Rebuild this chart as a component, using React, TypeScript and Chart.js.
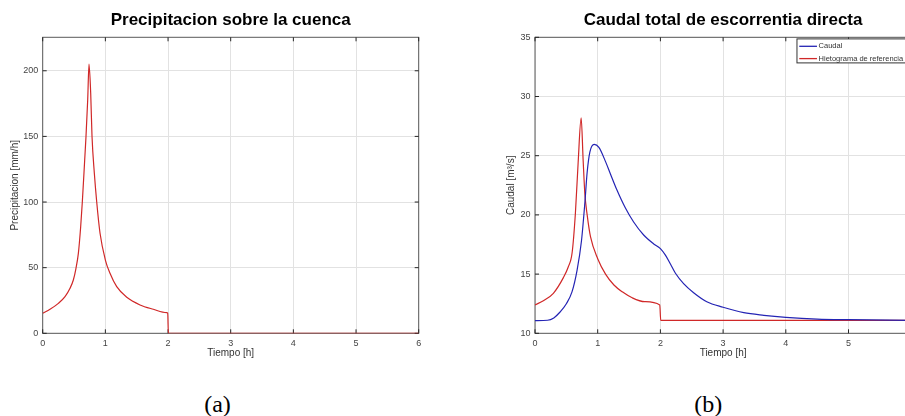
import React, { useEffect, useRef } from "react";
import { Chart, registerables } from "chart.js";

Chart.register(...registerables);

// ---- Data ----
const precipTime = [0, 0.117, 0.25, 0.356, 0.436, 0.489, 0.531, 0.569, 0.606, 0.632, 0.67, 0.691, 0.718, 0.739, 0.766, 0.787, 0.824, 0.862, 0.915, 1.0, 1.074, 1.181, 1.341, 1.553, 1.765, 1.979, 1.995, 2.005, 6];
const precipValue = [15.2, 18.3, 22.8, 27.9, 34.3, 40.6, 49.5, 60.9, 81.2, 99.8, 132, 150, 177.7, 205, 182.8, 150, 121.9, 100, 76.2, 55.8, 45.7, 35.5, 27.4, 21.6, 18.3, 15.7, 15.4, 0, 0];

const caudalTime = [0, 0.2, 0.3, 0.4, 0.5, 0.59, 0.67, 0.741, 0.795, 0.832, 0.875, 0.944, 1.019, 1.125, 1.2, 1.307, 1.44, 1.573, 1.733, 1.893, 2.0, 2.08, 2.16, 2.24, 2.37, 2.53, 2.74, 3.0, 3.33, 3.65, 4.0, 4.5, 5.0, 6.0];
const caudalValue = [11.07, 11.1, 11.3, 11.8, 12.5, 13.5, 15.3, 17.8, 21.0, 23.6, 25.3, 25.95, 25.7, 24.5, 23.5, 22.1, 20.6, 19.4, 18.3, 17.55, 17.15, 16.6, 15.85, 15.07, 14.2, 13.43, 12.67, 12.2, 11.74, 11.52, 11.35, 11.2, 11.15, 11.1];

const hietTime = [0, 0.133, 0.293, 0.453, 0.53, 0.592, 0.645, 0.688, 0.736, 0.768, 0.795, 0.832, 0.885, 1.0, 1.125, 1.259, 1.392, 1.55, 1.75, 1.99, 2.005, 6];
const hietValue = [12.39, 12.75, 13.38, 14.7, 15.6, 16.8, 20.2, 24.4, 28.2, 24.6, 21.8, 20.0, 18.16, 16.3, 15.0, 14.08, 13.5, 13.0, 12.67, 12.39, 11.1, 11.1];

const leftTitle = "Precipitacion sobre la cuenca";
const rightTitle = "Caudal total de escorrentia directa";
const xLabel = "Tiempo [h]";
const leftYLabel = "Precipitacion [mm/h]";
const rightYLabel = "Caudal [m³/s]";
const seriesLabels = ["Caudal", "Hietograma de referencia"];
const panelLabels = ["(a)", "(b)"];

const RED = "#d02828";
const BLUE = "#2424b4";
const FONT = "'Liberation Sans', Arial, sans-serif";

const toPoints = (xs: number[], ys: number[]) => xs.map((x, i) => ({ x, y: ys[i] }));

const framePlugin = {
  id: "frame",
  beforeDatasetsDraw(chart: any) {
    const { ctx, chartArea } = chart;
    const { left, right, top, bottom } = chartArea;
    const xs = chart.scales.x;
    const ys = chart.scales.y;
    ctx.save();
    ctx.strokeStyle = "#5a5a5a";
    ctx.lineWidth = 1;
    ctx.strokeRect(left, top, right - left, bottom - top);
    ctx.strokeStyle = "#262626";
    ctx.beginPath();
    xs.ticks.forEach((t: any) => {
      const px = xs.getPixelForValue(t.value);
      ctx.moveTo(px, bottom);
      ctx.lineTo(px, bottom - 4);
      ctx.moveTo(px, top);
      ctx.lineTo(px, top + 4);
    });
    ys.ticks.forEach((t: any) => {
      const py = ys.getPixelForValue(t.value);
      ctx.moveTo(left, py);
      ctx.lineTo(left + 4, py);
      ctx.moveTo(right, py);
      ctx.lineTo(right - 4, py);
    });
    ctx.stroke();
    ctx.restore();
  },
};

const legendPlugin = {
  id: "boxLegend",
  afterDraw(chart: any) {
    const { ctx, chartArea } = chart;
    ctx.save();
    ctx.font = `7.5px ${FONT}`;
    const items = chart.data.datasets.map((d: any) => ({ label: d.label, color: d.borderColor }));
    const textW = Math.max(...items.map((i: any) => ctx.measureText(i.label).width));
    const w = 21.6 + textW + 6;
    const right = chartArea.right - 2;
    const left = right - w;
    const top = chartArea.top + 1.6;
    const h = 24;
    ctx.fillStyle = "#fff";
    ctx.fillRect(left, top, w, h);
    ctx.strokeStyle = "#333";
    ctx.lineWidth = 1;
    ctx.strokeRect(left, top, w, h);
    items.forEach((it: any, i: number) => {
      const y = top + 7.4 + i * 12.3;
      ctx.strokeStyle = it.color;
      ctx.lineWidth = 1.3;
      ctx.beginPath();
      ctx.moveTo(left + 2.3, y);
      ctx.lineTo(left + 20, y);
      ctx.stroke();
      ctx.fillStyle = "#333";
      ctx.textBaseline = "middle";
      ctx.textAlign = "left";
      ctx.fillText(it.label, left + 21.6, y);
    });
    ctx.restore();
  },
};

function makeScales(yMin: number, yMax: number, yStep: number, yWidth: number, yLabel: string, yTitlePad: number) {
  return {
    x: {
      type: "linear",
      min: 0,
      max: 6,
      afterFit: (s: any) => {
        s.height = 46.7;
      },
      grid: { color: "#e2e2e2", drawTicks: false, lineWidth: 1 },
      border: { display: false },
      ticks: { stepSize: 1, padding: 5, color: "#444", font: { size: 9, family: FONT }, maxRotation: 0, includeBounds: false },
      title: { display: true, text: xLabel, color: "#333", font: { size: 10, family: FONT }, padding: { top: 0, bottom: 20.7 } },
    },
    y: {
      type: "linear",
      min: yMin,
      max: yMax,
      afterFit: (s: any) => {
        s.width = yWidth;
      },
      grid: { color: "#e2e2e2", drawTicks: false, lineWidth: 1 },
      border: { display: false },
      ticks: { stepSize: yStep, padding: 4.5, color: "#444", font: { size: 9, family: FONT }, includeBounds: false },
      title: { display: true, text: yLabel, color: "#333", font: { size: 10, family: FONT }, padding: { top: yTitlePad, bottom: 0 } },
    },
  };
}

function titleOpts(text: string) {
  return {
    display: true,
    fullSize: false,
    text,
    color: "#000",
    font: { size: 17, weight: "bold", family: FONT },
    padding: { top: 10.5, bottom: 6.4 },
  };
}

const lineStyle = {
  borderWidth: 1.2,
  pointRadius: 0,
  cubicInterpolationMode: "monotone",
  fill: false,
};

export default function App() {
  const leftRef = useRef<HTMLCanvasElement>(null);
  const rightRef = useRef<HTMLCanvasElement>(null);

  useEffect(() => {
    const left = new Chart(leftRef.current as HTMLCanvasElement, {
      type: "line",
      data: {
        datasets: [
          {
            label: "Precipitacion",
            data: toPoints(precipTime, precipValue),
            borderColor: RED,
            ...(lineStyle as any),
          },
        ],
      },
      options: {
        responsive: false,
        animation: false,
        layout: { padding: { left: 0, right: 31.3, top: 0, bottom: 0 } },
        plugins: { legend: { display: false }, tooltip: { enabled: false }, title: titleOpts(leftTitle) as any },
        scales: makeScales(0, 225.5, 50, 42.7, leftYLabel, 9) as any,
      },
      plugins: [framePlugin],
    });

    const right = new Chart(rightRef.current as HTMLCanvasElement, {
      type: "line",
      data: {
        datasets: [
          {
            label: seriesLabels[0],
            data: toPoints(caudalTime, caudalValue),
            borderColor: BLUE,
            ...(lineStyle as any),
          },
          {
            label: seriesLabels[1],
            data: toPoints(hietTime, hietValue),
            borderColor: RED,
            ...(lineStyle as any),
          },
        ],
      },
      options: {
        responsive: false,
        animation: false,
        layout: { padding: { left: 0, right: 13.8, top: 0, bottom: 0 } },
        plugins: { legend: { display: false }, tooltip: { enabled: false }, title: titleOpts(rightTitle) as any },
        scales: makeScales(10, 35, 5, 80, rightYLabel, 50.7) as any,
      },
      plugins: [framePlugin, legendPlugin],
    });

    return () => {
      left.destroy();
      right.destroy();
    };
  }, []);

  const panelStyle = (center: number): React.CSSProperties => ({
    position: "absolute",
    left: center - 40,
    width: 80,
    top: 392,
    textAlign: "center",
    fontFamily: "'Liberation Serif', 'Times New Roman', serif",
    fontSize: 24,
    lineHeight: "24px",
    color: "#000",
  });

  return (
    <div style={{ position: "fixed", left: 0, top: 0, width: 905, height: 416, overflow: "hidden", background: "#fff" }}>
      <canvas ref={leftRef} width={450} height={380} style={{ position: "absolute", left: 0, top: 0 }} />
      <canvas ref={rightRef} width={470} height={380} style={{ position: "absolute", left: 455, top: 0 }} />
      <div style={panelStyle(217.5)}>{panelLabels[0]}</div>
      <div style={panelStyle(708.3)}>{panelLabels[1]}</div>
    </div>
  );
}
